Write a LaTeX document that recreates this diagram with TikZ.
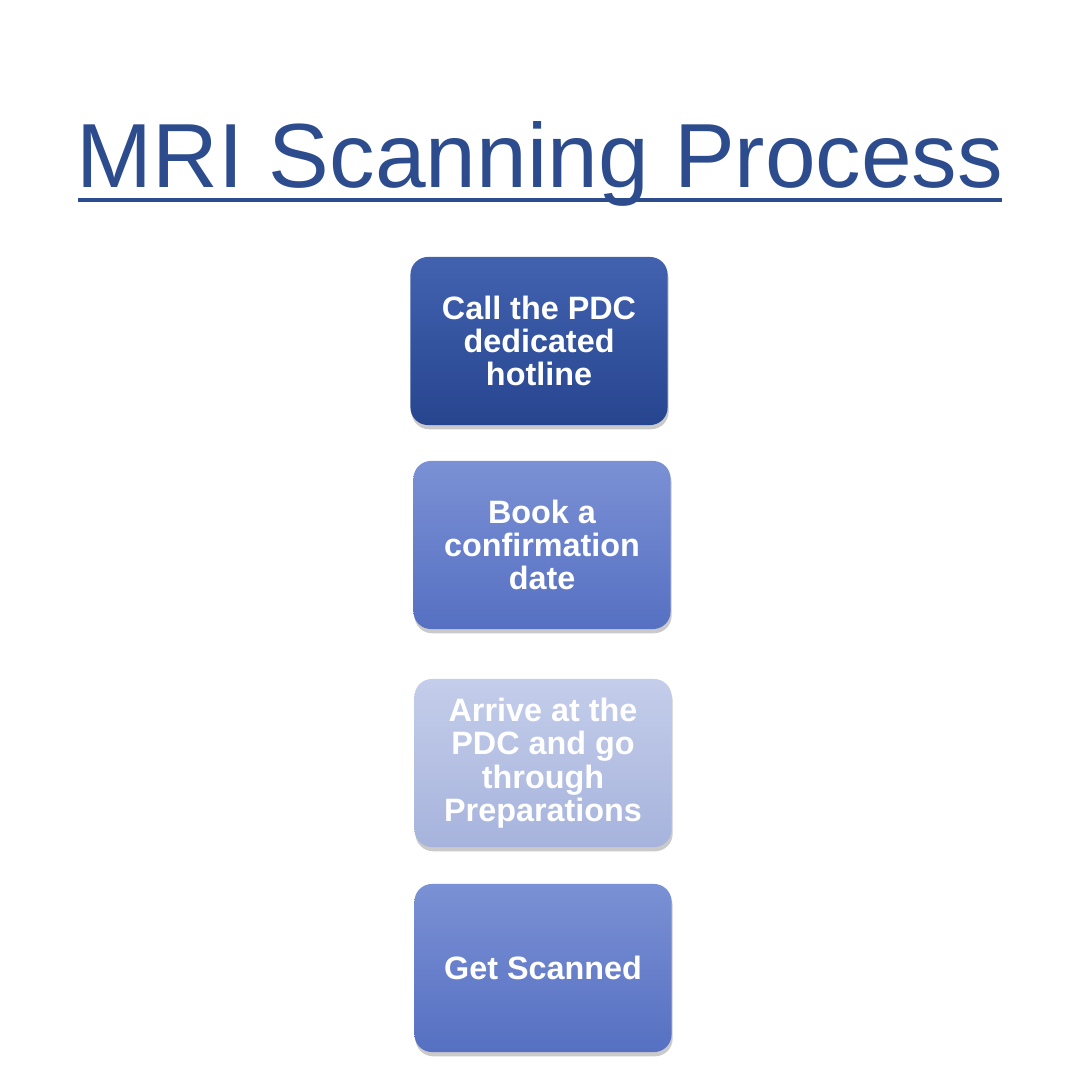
\documentclass[tikz,border=0pt]{standalone}
\usepackage{fontspec}
\setmainfont{Liberation Sans}
\usetikzlibrary{shadows}
\definecolor{titleblue}{HTML}{2D4C8E}
\definecolor{aTop}{HTML}{4262B0}
\definecolor{aBot}{HTML}{27458F}
\definecolor{bTop}{HTML}{7B91D5}
\definecolor{bBot}{HTML}{5670C2}
\definecolor{cTop}{HTML}{C4CDEA}
\definecolor{cBot}{HTML}{A6B3DC}
\tikzset{
  stepbox/.style={rectangle, rounded corners=5pt, minimum width=2.57cm, minimum height=1.68cm,
    align=center, text=white, inner sep=0pt,
    font=\fontsize{9.2pt}{9.5pt}\selectfont\bfseries,
    drop shadow={shadow xshift=0.3pt, shadow yshift=-1.2pt, opacity=0.35, fill=black!60}},
  dark/.style={stepbox, top color=aTop, bottom color=aBot},
  mid/.style={stepbox, top color=bTop, bottom color=bBot},
  light/.style={stepbox, top color=cTop, bottom color=cBot},
}
\begin{document}
\begin{tikzpicture}[x=0.01cm,y=-0.01cm]
\useasboundingbox (0,0) rectangle (1080,1080);
\node[anchor=base, text=titleblue, font=\fontsize{25.9pt}{30pt}\selectfont, inner sep=0pt] (title) at (540,188) {MRI Scanning Process};
\coordinate (ulL) at (78,200);
\coordinate (ulR) at (1002,200);
\draw[titleblue, line width=1.4pt] (ulL) -- (ulR);
\node[dark] (s1) at (539,341) {Call the PDC\\dedicated\\hotline};
\node[mid] (s2) at (542,545) {Book a\\confirmation\\date};
\node[light] (s3) at (543,763) {Arrive at the\\PDC and go\\through\\Preparations};
\node[mid] (s4) at (543,968) {Get Scanned};
\end{tikzpicture}
\end{document}
